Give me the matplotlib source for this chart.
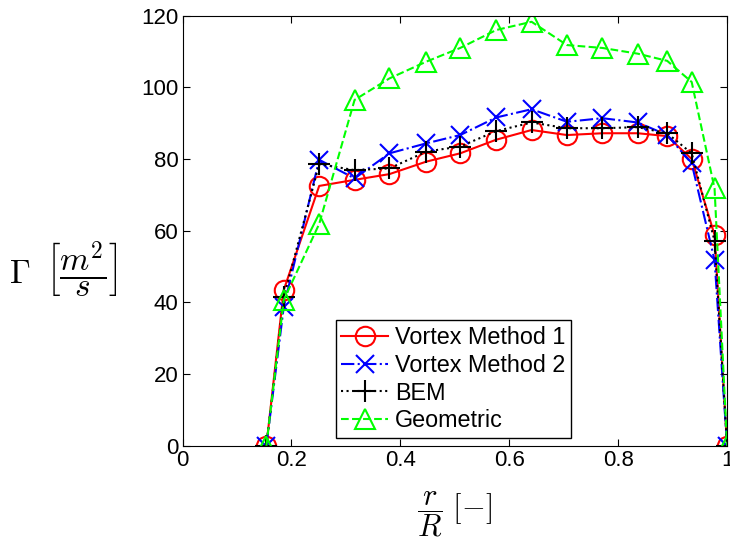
import matplotlib
matplotlib.use("Agg")
import matplotlib.pyplot as plt

plt.rcParams['font.family'] = ['Liberation Sans', 'DejaVu Sans']
plt.rcParams['mathtext.fontset'] = 'cm'

# radial positions r/R
r_R = [0.154, 0.186, 0.251, 0.316, 0.380, 0.448, 0.510, 0.576, 0.641,
       0.706, 0.771, 0.836, 0.890, 0.935, 0.977, 1.0]

# circulation [m^2/s]
vortex1 = [0, 43.5, 72.5, 74.2, 75.8, 79.3, 81.6, 85.4, 88.1,
           86.7, 87.2, 87.2, 86.4, 80.0, 58.8, 0]
vortex2 = [0, 38.8, 79.8, 74.6, 81.6, 84.4, 86.7, 91.6, 93.9,
           90.4, 91.4, 90.2, 86.7, 78.8, 51.8, 0]
bem = [0, 41.5, 78.6, 76.9, 77.4, 82.1, 83.5, 87.8, 90.2,
       88.6, 88.6, 88.9, 87.2, 81.6, 57.2, 0]
geometric = [0, 40.7, 61.9, 96.5, 102.5, 107.2, 111.0, 116.0, 118.3,
             111.8, 111.0, 109.4, 107.4, 101.5, 71.8, 0]

fig = plt.figure(figsize=(7.3, 5.41), dpi=100)
ax = fig.add_axes([0.250, 0.176, 0.746, 0.795])

ms = 14
lw = 1.5
ax.plot(r_R, vortex1, '-', color=(1, 0, 0), marker='o', mfc='none', mec=(1, 0, 0),
        ms=ms, mew=lw, lw=lw, label='Vortex Method 1')
ax.plot(r_R, vortex2, '-.', color=(0, 0, 1), marker='x', ms=ms - 1, mew=lw, lw=lw,
        label='Vortex Method 2')
ax.plot(r_R, bem, ':', color='k', marker='+', ms=ms + 2, mew=lw, lw=lw, label='BEM')
ax.plot(r_R, geometric, '--', color=(0, 1, 0), marker='^', mfc='none', mec=(0, 1, 0),
        ms=ms, mew=lw, lw=lw, label='Geometric')

ax.set_xlim(0, 1)
ax.set_ylim(0, 120)
ax.set_xticks([0, 0.2, 0.4, 0.6, 0.8, 1])
ax.set_xticklabels(['0', '0.2', '0.4', '0.6', '0.8', '1'])
ax.set_yticks(range(0, 121, 20))
ax.tick_params(direction='in', top=True, right=True, labelsize=16, length=5, pad=3)

ax.set_xlabel(r'$\dfrac{r}{R}\ [-]$', fontsize=22, va='center', ha='center')
ax.xaxis.set_label_coords(0.5, -0.16)
ax.set_ylabel(r'$\Gamma\;\;\left[\dfrac{m^2}{s}\right]$', fontsize=24, rotation=0,
              va='center', ha='center')
ax.yaxis.set_label_coords(-0.219, 0.409)

leg = ax.legend(loc='lower left', bbox_to_anchor=(0.281, 0.018), fontsize=16.8,
                fancybox=False, edgecolor='k', framealpha=1, borderpad=0.25,
                labelspacing=0.2, handlelength=2.0, handletextpad=0.3,
                borderaxespad=0)
leg.get_frame().set_linewidth(1.0)

fig.savefig('out.png', dpi=100)
